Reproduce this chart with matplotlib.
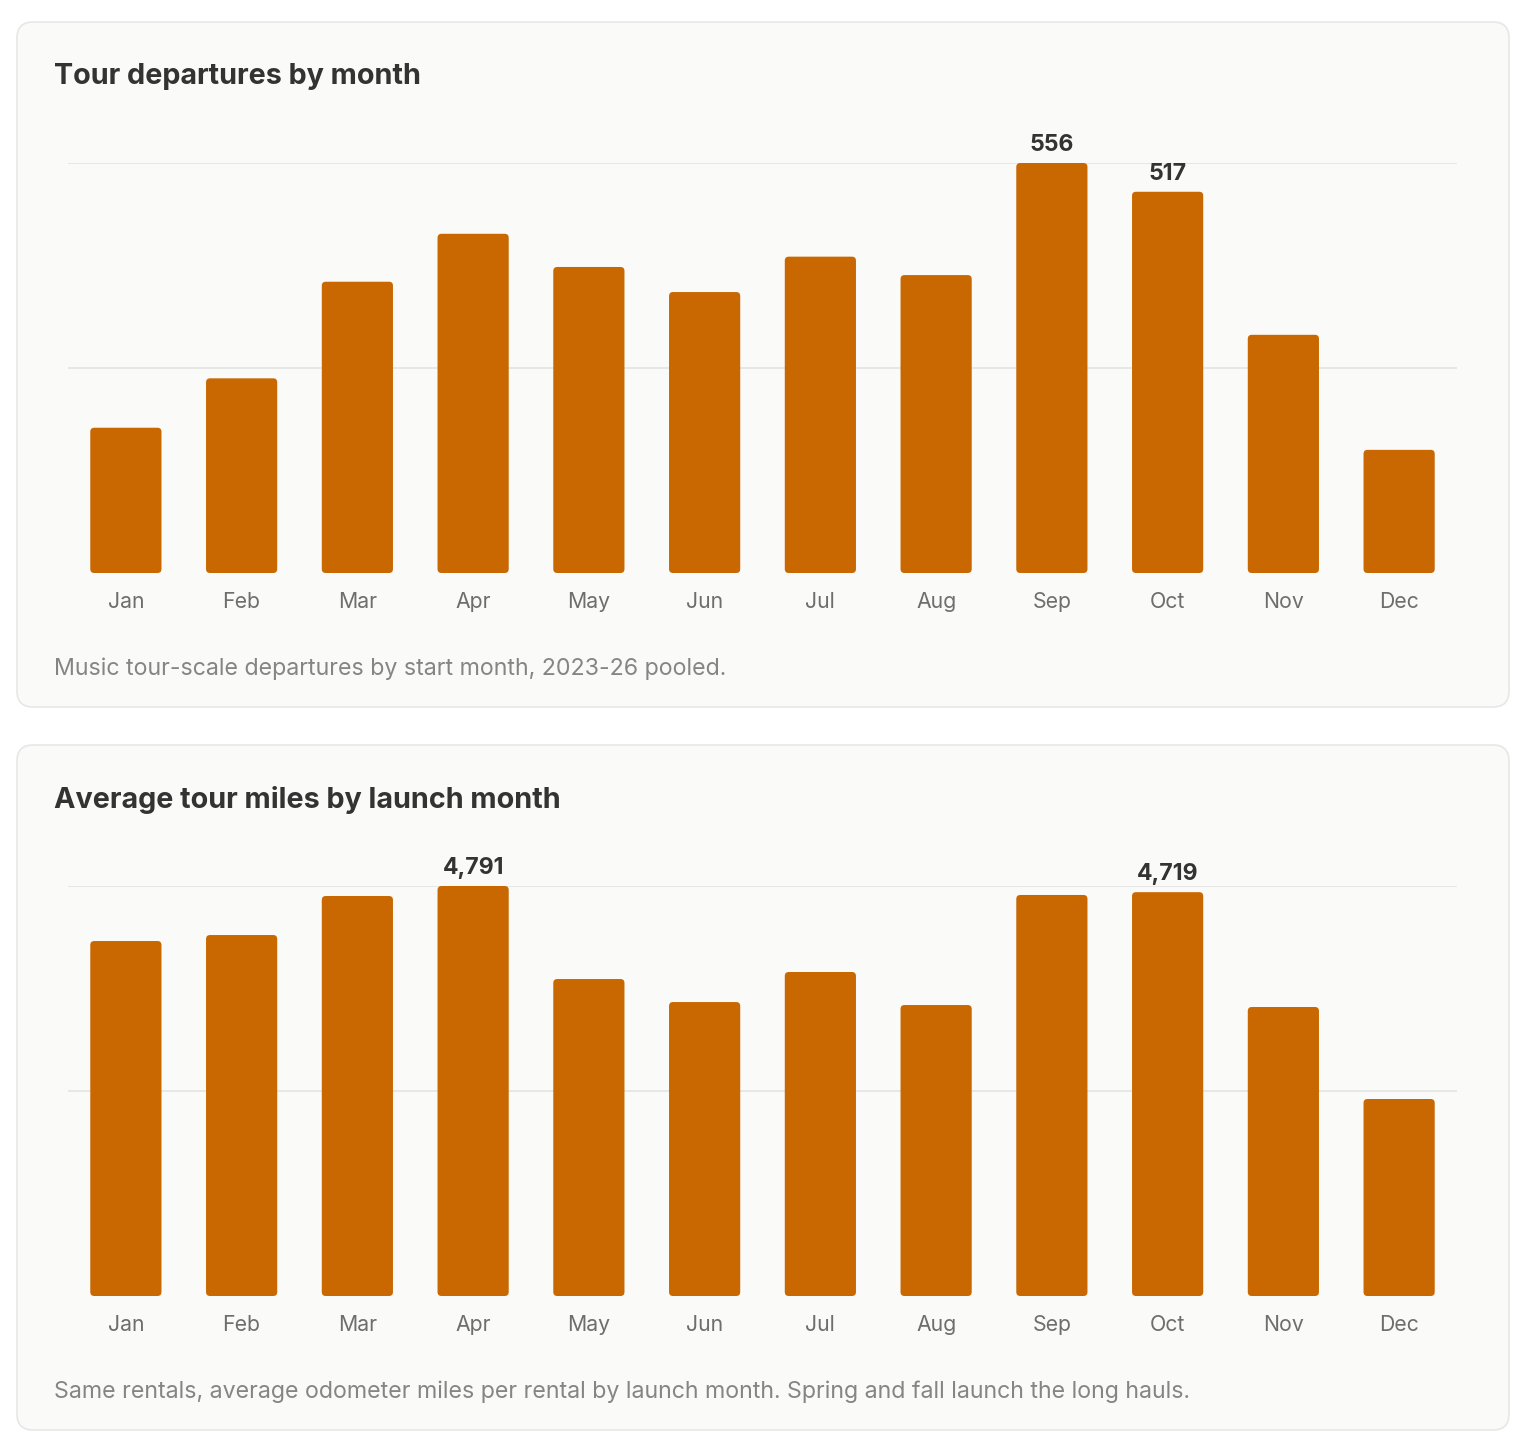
import matplotlib.pyplot as plt
from matplotlib.patches import FancyBboxPatch

plt.rcParams['font.family'] = ['Inter', 'DejaVu Sans']

months = ['Jan', 'Feb', 'Mar', 'Apr', 'May', 'Jun',
          'Jul', 'Aug', 'Sep', 'Oct', 'Nov', 'Dec']
departures = [197, 264, 395, 460, 415, 381, 429, 404, 556, 517, 323, 167]
avg_miles = [4148, 4218, 4674, 4791, 3704, 3435, 3786, 3400, 4686, 4719, 3377, 2302]

titles = ['Tour departures by month', 'Average tour miles by launch month']
captions = ['Music tour-scale departures by start month, 2023-26 pooled.',
            'Same rentals, average odometer miles per rental by launch month. '
            'Spring and fall launch the long hauls.']
series = [departures, avg_miles]

BAR = '#C96800'
W, H = 1523, 1448

fig = plt.figure(figsize=(W / 100, H / 100), dpi=100)
fig.patch.set_facecolor('white')

# background axes in pixel units for the cards and the text
bg = fig.add_axes([0, 0, 1, 1])
bg.set_xlim(0, W)
bg.set_ylim(H, 0)
bg.axis('off')

for k in range(2):
    off = 723 * k
    vals = series[k]

    card = FancyBboxPatch((17, 22 + off), 1492, 685,
                          boxstyle='round,pad=0,rounding_size=16',
                          fc='#FAFAF9', ec='#E7E7E5', lw=1.2)
    bg.add_patch(card)
    bg.text(54, 77 + off, titles[k], fontsize=20.7, fontweight='bold',
            color='#333333', va='center', ha='left')
    bg.text(54, 669 + off, captions[k], fontsize=16.7, color='#858585',
            va='center', ha='left')

    ax = fig.add_axes([68 / W, (H - 573 - off) / H, (1457 - 68) / W, 410 / H])
    ax.patch.set_alpha(0)
    ymax = max(vals)
    ax.set_xlim(-0.5, 11.5)
    ax.set_ylim(0, ymax)
    for s in ax.spines.values():
        s.set_visible(False)
    ax.set_yticks([])
    ax.set_xticks(range(12), months)
    ax.tick_params(axis='x', length=0, pad=14, labelsize=15.3, labelcolor='#6E6E6E')

    for g in (ymax / 2, ymax):
        ax.axhline(g, color='#E6E6E4', lw=1.3, zorder=0)

    # rounded bars; aspect keeps the corners round in pixels
    bw = 0.615
    px_x = 1 / 115.75
    px_y = ymax / 410
    r = 4 * px_x
    for i, v in enumerate(vals):
        p = FancyBboxPatch((i - bw / 2, 0), bw, v,
                           boxstyle=f'round,pad=0,rounding_size={r}',
                           mutation_aspect=px_y / px_x,
                           fc=BAR, ec='none', zorder=2)
        ax.add_patch(p)

    top2 = sorted(range(12), key=lambda i: vals[i], reverse=True)[:2]
    for i in top2:
        ax.annotate(f'{vals[i]:,}', (i, vals[i]), xytext=(0, 8.6),
                    textcoords='offset points', ha='center', va='baseline',
                    fontsize=16.6, fontweight='bold', color='#333333',
                    annotation_clip=False)

fig.savefig('out.png', dpi=100, facecolor='white')
